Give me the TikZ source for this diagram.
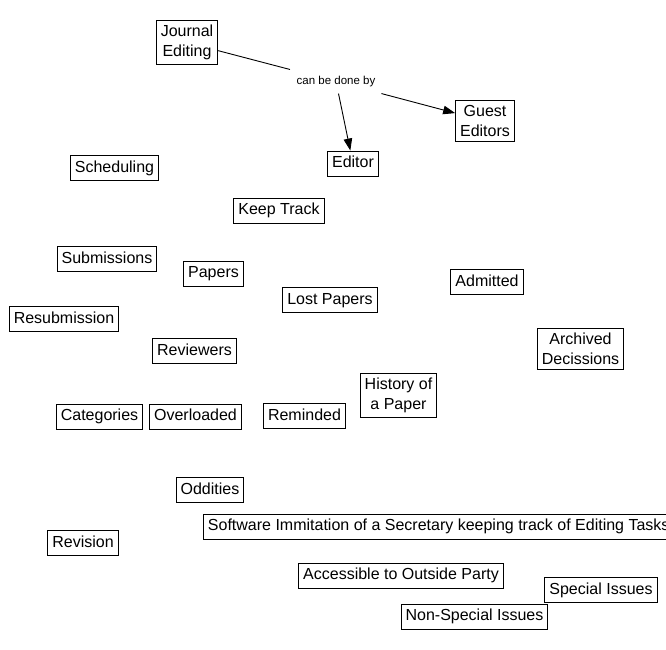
\documentclass[tikz,border=0pt]{standalone}
\usepackage{fontspec}
\setmainfont{Liberation Sans}
\usetikzlibrary{arrows.meta}
\tikzset{
  box/.style={draw, line width=0.9pt, inner xsep=4.5pt, inner ysep=0pt, text height=11.5pt, text depth=3.5pt, minimum height=25pt, align=center, font=\fontsize{16}{19.5}\selectfont},
  twobox/.style={draw, line width=0.9pt, inner xsep=4.5pt, inner ysep=5pt, align=center, font=\fontsize{16}{19.5}\selectfont},
  linklbl/.style={inner xsep=6.5pt, inner ysep=6.5pt, font=\fontsize{11.5}{13}\selectfont},
  link/.style={line width=0.9pt},
  tip/.style={-{Triangle[length=12pt,width=8.5pt]}}
}
\begin{document}
\begin{tikzpicture}[x=1pt,y=-1pt]

    \useasboundingbox (0,0) rectangle (666,649);

    \node[twobox] (journal) at (187,42.5) {Journal\\Editing};
    \node[linklbl] (doneby) at (336,81.5) {can be done by};
    \node[twobox] (guest) at (485,121) {Guest\\Editors};
    \node[box] (editor) at (353,163.5) {Editor};

    \draw[link] (journal) -- (doneby);
    \draw[link, tip] (doneby) -- (editor); %editor
    \draw[link, tip] (doneby) -- (guest); %guest editors

    \node[box] (sched) at (114.5,168) {Scheduling};
    \node[box] (track) at (279,210.5) {Keep Track};
    \node[box] (subm) at (107,259) {Submissions};
    \node[box] (papers) at (213.5,273.5) {Papers};
    \node[box] (lost) at (330,300) {Lost Papers};
    \node[box] (admitted) at (487,282) {Admitted};
    \node[box] (resubm) at (64,319) {Resubmission};
    \node[twobox] (archived) at (580.5,349) {Archived\\Decissions};
    \node[box] (reviewers) at (194.5,351) {Reviewers};
    \node[twobox] (history) at (398.5,395.5) {History of\\a Paper};
    \node[box] (categories) at (99.5,416.5) {Categories};
    \node[box] (overloaded) at (195.5,416.5) {Overloaded};
    \node[box] (reminded) at (304.5,416) {Reminded};
    \node[box] (oddities) at (210,490) {Oddities};
    \node[box, anchor=west] (software) at (203,526.5) {Software Immitation of a Secretary keeping track of Editing Tasks};
    \node[box] (revision) at (83,543) {Revision};
    \node[box] (outside) at (401,575.5) {Accessible to Outside Party};
    \node[box] (special) at (601,590) {Special Issues};
    \node[box] (nonspecial) at (474.5,616.5) {Non-Special Issues};

\end{tikzpicture}
\end{document}
